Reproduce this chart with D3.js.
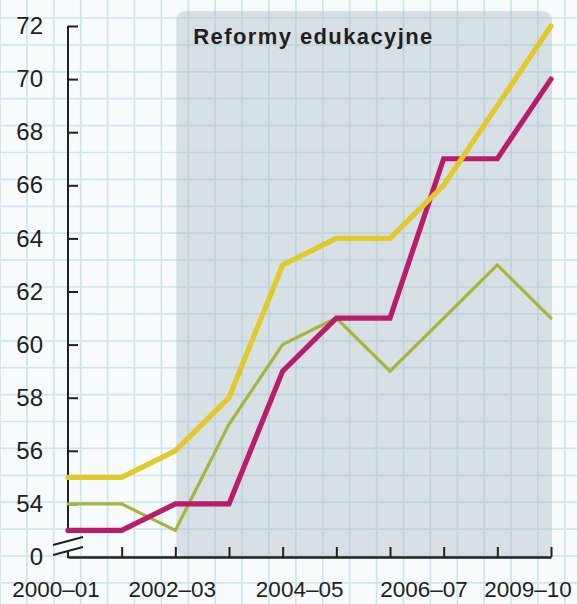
<!DOCTYPE html>
<html>
<head>
<meta charset="utf-8">
<script src="https://cdn.jsdelivr.net/npm/d3@7"></script>
<style>
	body { margin: 0; padding: 0; background: #f8fbfc; }
	svg { display: block; font-family: "Liberation Sans", Arial, sans-serif; }
</style>
</head>
<body>
<svg width="577" height="604"></svg>
<script>
(function(){

	// school years on the x axis
	var years = ["2000–01", "2001–02", "2002–03", "2003–04", "2004–05",
		"2005–06", "2006–07", "2007–08", "2008–09", "2009–10"];

	var yellowSeries = [55, 55, 56, 58, 63, 64, 64, 66, 69, 72];
	var magentaSeries = [53, 53, 54, 54, 59, 61, 61, 67, 67, 70];
	var greenSeries = [54, 54, 53, 57, 60, 61, 59, 61, 63, 61];

	var yTicks = [54, 56, 58, 60, 62, 64, 66, 68, 70, 72];
	var xLabels = ["2000–01", "2002–03", "2004–05", "2006–07", "2009–10"];
	var reformStart = "2002–03";
	var reformLabel = "Reformy edukacyjne";

	var svg = d3.select("svg"),
		W = +svg.attr("width"),
		H = +svg.attr("height");

	// graph paper
	var grid = svg.append("g").attr("class", "grid");
	var step = 26.9;
	d3.range(0, W, step).forEach(function(x){
		grid.append("line").attr("x1", x).attr("x2", x).attr("y1", 0).attr("y2", H)
			.attr("stroke", "#cde6ef").attr("stroke-width", 1.7);
	});
	d3.range(18, H, step).forEach(function(y){
		grid.append("line").attr("x1", 0).attr("x2", W).attr("y1", y).attr("y2", y)
			.attr("stroke", "#cde6ef").attr("stroke-width", 1.7);
	});

	var x = d3.scalePoint().domain(years).range([68, 551]);
	// bottom of the axis stands for 0 (axis is broken)
	var y = d3.scaleLinear().domain([52, 72]).range([557, 26]);

	// shaded reform period
	svg.append("rect")
		.attr("x", x(reformStart) + 1)
		.attr("y", 11)
		.attr("width", x(years[years.length - 1]) + 1 - x(reformStart) - 1)
		.attr("height", y(52) - 11)
		.attr("rx", 9)
		.attr("fill", "#a9b9c4")
		.attr("fill-opacity", 0.42);
	svg.append("text")
		.text(reformLabel)
		.attr("x", x(reformStart) + 18)
		.attr("y", 44)
		.style("font-size", "22px")
		.style("font-weight", "bold")
		.style("letter-spacing", "1.4px")
		.attr("fill", "#231f20");

	// y axis: ticks pointing right, labels on the left
	var yAxis = svg.append("g")
		.attr("transform", "translate(" + x(years[0]) + ",0)")
		.call(d3.axisLeft(y).tickValues(yTicks.concat([52]))
			.tickFormat(function(d){ return d === 52 ? "0" : d; })
			.tickSize(-10).tickPadding(25));
	yAxis.select(".domain").remove();
	yAxis.selectAll(".tick line").attr("stroke", "#231f20").attr("stroke-width", 2);
	yAxis.selectAll(".tick").filter(function(d){ return d === 52; }).select("line").remove();
	yAxis.selectAll("text")
		.attr("fill", "#231f20")
		.style("font-size", "24px")
		.style("font-family", "'Liberation Sans', Arial, sans-serif");

	var axisX = x(years[0]);
	svg.append("line").attr("x1", axisX).attr("x2", axisX)
		.attr("y1", y(72)).attr("y2", 533)
		.attr("stroke", "#231f20").attr("stroke-width", 2);
	svg.append("line").attr("x1", axisX).attr("x2", axisX)
		.attr("y1", 551).attr("y2", y(52) + 1)
		.attr("stroke", "#231f20").attr("stroke-width", 2);
	// break marks
	[[545, 537], [555, 547]].forEach(function(b){
		svg.append("line").attr("x1", 53).attr("y1", b[0]).attr("x2", 83).attr("y2", b[1])
			.attr("stroke", "#231f20").attr("stroke-width", 2);
	});

	// x axis: ticks pointing up
	var xAxis = svg.append("g")
		.attr("transform", "translate(0," + y(52) + ")")
		.call(d3.axisBottom(x).tickSize(-10).tickSizeOuter(0).tickFormat(""));
	xAxis.select(".domain").attr("stroke", "#231f20").attr("stroke-width", 2.4);
	xAxis.selectAll(".tick line").attr("stroke", "#231f20").attr("stroke-width", 2);
	xAxis.selectAll(".tick").filter(function(d){ return d === years[0]; }).select("line").remove();

	var labelShift = [-12, -3, 17, 34, -23];
	svg.selectAll(".xlabel")
		.data(xLabels)
		.enter().append("text")
			.attr("class", "xlabel")
			.attr("x", function(d, i){ return x(d) + labelShift[i]; })
			.attr("y", 597)
			.attr("text-anchor", "middle")
			.style("font-size", "22.5px")
			.attr("fill", "#231f20")
			.text(function(d){ return d; });

	var line = d3.line()
		.x(function(d, i){ return x(years[i]); })
		.y(function(d){ return y(d); });

	var series = [
		{values: greenSeries, color: "#a6b63a", width: 3.2},
		{values: magentaSeries, color: "#b91c6b", width: 5.2},
		{values: yellowSeries, color: "#e1c929", width: 5.2}
	];
	svg.selectAll(".series")
		.data(series)
		.enter().append("path")
			.attr("class", "series")
			.attr("d", function(d){ return line(d.values); })
			.attr("fill", "none")
			.attr("stroke", function(d){ return d.color; })
			.attr("stroke-width", function(d){ return d.width; })
			.attr("stroke-linejoin", "miter")
			.attr("stroke-linecap", "round");

})();
</script>
</body>
</html>
